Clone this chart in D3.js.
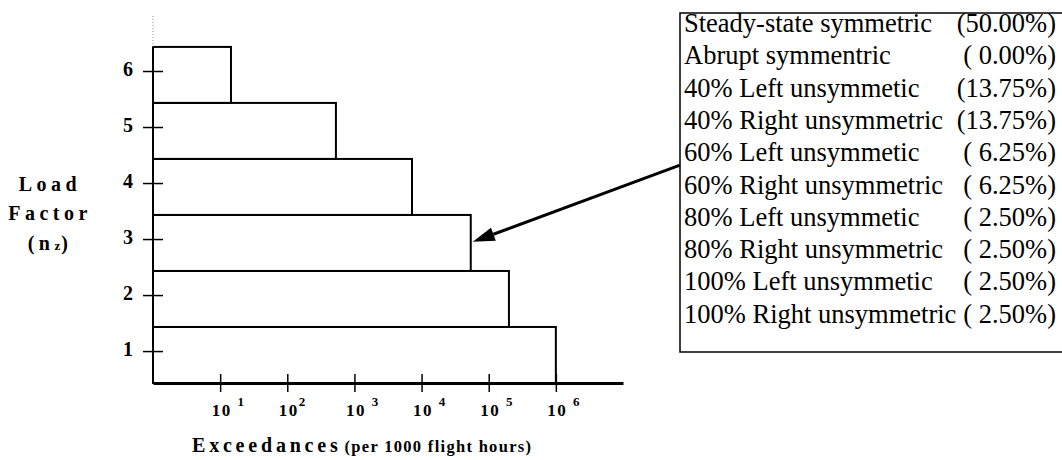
<!DOCTYPE html>
<html lang="en">
<head>
    <meta charset="UTF-8">
    <title>Load Factor Exceedances</title>
    <script src="https://d3js.org/d3.v7.min.js"></script>
    <style>
        body { margin: 0; background: #fff; }
        svg { display: block; }
    </style>
</head>
<body>
    <div id="chart"></div>

    <script>
        // Load factor levels and the exceedance count reached at each level
        var levels = [1, 2, 3, 4, 5, 6];
        var exceedances = [1e6, 2.0e5, 5.4e4, 7.2e3, 530, 14.5];
        var binLow = [0.43, 1.43, 2.43, 3.43, 4.43, 5.43];
        var binHigh = [1.43, 2.43, 3.43, 4.43, 5.43, 6.43];

        // x tick labels: base, spacer, exponent
        var xTicks = [1e1, 1e2, 1e3, 1e4, 1e5, 1e6];
        var xTickExp = ["1", "2", "3", "4", "5", "6"];
        var xTickGap = [" ", "", " ", " ", " ", " "];

        // Legend: manoeuvre cases and their shares
        var cases = [
            "Steady-state symmetric",
            "Abrupt symmentric",
            "40% Left unsymmetic",
            "40% Right unsymmetric",
            "60% Left unsymmetic",
            "60% Right unsymmetric",
            "80% Left unsymmetic",
            "80% Right unsymmetric",
            "100% Left unsymmetic",
            "100% Right unsymmetric"
        ];
        var shares = ["(50.00%)", "( 0.00%)", "(13.75%)", "(13.75%)", "( 6.25%)",
                      "( 6.25%)", "( 2.50%)", "( 2.50%)", "( 2.50%)", "( 2.50%)"];

        var serif = "'Liberation Serif', 'Times New Roman', serif";

        var svg = d3.select("#chart")
            .append("svg")
            .attr("width", 1062)
            .attr("height", 460);

        var x = d3.scaleLog()
            .domain([1, 1e7])
            .range([153, 623]);

        var y = d3.scaleLinear()
            .domain([0.43, 7])
            .range([383, 15]);

        // Stepped bars
        svg.selectAll("rect.bar")
            .data(levels)
            .enter()
            .append("rect")
            .attr("class", "bar")
            .attr("x", x(1))
            .attr("y", (d, i) => y(binHigh[i]))
            .attr("width", (d, i) => x(exceedances[i]) - x(1))
            .attr("height", (d, i) => y(binLow[i]) - y(binHigh[i]))
            .attr("fill", "none")
            .attr("stroke", "#000")
            .attr("stroke-width", 2);

        // Y axis
        var yAxis = svg.append("g")
            .attr("transform", "translate(" + x(1) + ",0)")
            .call(d3.axisLeft(y).tickValues(levels).tickSize(10).tickPadding(10).tickFormat(d3.format("d")));
        yAxis.select(".domain").remove();
        yAxis.selectAll(".tick line")
            .attr("x1", 10)
            .attr("stroke", "#000")
            .attr("stroke-width", 1.5);
        yAxis.selectAll(".tick text")
            .attr("fill", "#000")
            .attr("dy", "0.22em")
            .style("font-family", serif)
            .style("font-weight", "bold")
            .style("font-size", "20px");

        // solid axis up to the top bar, faint dotted above it
        svg.append("line")
            .attr("x1", x(1)).attr("x2", x(1))
            .attr("y1", y(binLow[0])).attr("y2", y(binHigh[5]))
            .attr("stroke", "#000")
            .attr("stroke-width", 2);
        svg.append("line")
            .attr("x1", x(1)).attr("x2", x(1))
            .attr("y1", y(binHigh[5])).attr("y2", y(7))
            .attr("stroke", "#888")
            .attr("stroke-width", 1)
            .attr("stroke-dasharray", "1,2");

        // X axis
        var xAxis = svg.append("g")
            .attr("transform", "translate(0," + y(binLow[0]) + ")")
            .call(d3.axisBottom(x).tickValues(xTicks).tickSize(9).tickSizeOuter(0).tickFormat(""));
        xAxis.select(".domain")
            .attr("stroke", "#000")
            .attr("stroke-width", 3);
        xAxis.selectAll(".tick line")
            .attr("y1", -9)
            .attr("stroke", "#000")
            .attr("stroke-width", 1.5);

        var xLabel = xAxis.selectAll(".tick")
            .append("text")
            .attr("y", 33)
            .attr("fill", "#000")
            .style("font-family", serif)
            .style("font-weight", "bold")
            .attr("text-anchor", "start")
            .attr("x", -9);
        xLabel.append("tspan")
            .style("font-size", "17px")
            .style("letter-spacing", "1.5px")
            .attr("xml:space", "preserve")
            .text((d, i) => "10" + xTickGap[i]);
        xLabel.append("tspan")
            .style("font-size", "13px")
            .attr("dy", -10)
            .text((d, i) => xTickExp[i]);

        // X axis title
        var xTitle = svg.append("text")
            .attr("x", 192)
            .attr("y", 452)
            .attr("fill", "#000")
            .style("font-family", serif)
            .style("font-weight", "bold");
        xTitle.append("tspan")
            .style("font-size", "20px")
            .style("letter-spacing", "3.8px")
            .text("Exceedances");
        xTitle.append("tspan")
            .attr("dx", 3)
            .style("font-size", "16.5px")
            .style("letter-spacing", "1.3px")
            .text("(per 1000 flight hours)");

        // Y axis title
        var yTitle = svg.append("text")
            .attr("text-anchor", "middle")
            .attr("fill", "#000")
            .style("font-family", serif)
            .style("font-weight", "bold")
            .style("font-size", "20px")
            .style("letter-spacing", "4.5px");
        yTitle.append("tspan").attr("x", 50).attr("y", 191).text("Load");
        yTitle.append("tspan").attr("x", 50).attr("y", 220).text("Factor");
        yTitle.append("tspan").attr("x", 50).attr("y", 250).text("(n");
        yTitle.append("tspan").style("font-size", "13px").style("letter-spacing", "1px").text("z");
        yTitle.append("tspan").text(")");

        // Legend box
        var legend = svg.append("g");
        legend.append("rect")
            .attr("x", 680)
            .attr("y", 13)
            .attr("width", 420)
            .attr("height", 339)
            .attr("fill", "#fff")
            .attr("stroke", "#000")
            .attr("stroke-width", 1.5);

        var rowY = d3.scaleLinear().domain([0, 1]).range([32, 64.3]);

        legend.selectAll("text.case")
            .data(cases)
            .enter()
            .append("text")
            .attr("class", "case")
            .attr("x", 684)
            .attr("y", (d, i) => rowY(i))
            .attr("fill", "#000")
            .style("font-family", serif)
            .style("font-size", "26.5px")
            .text(d => d);

        legend.selectAll("text.share")
            .data(shares)
            .enter()
            .append("text")
            .attr("class", "share")
            .attr("x", 1056)
            .attr("y", (d, i) => rowY(i))
            .attr("text-anchor", "end")
            .attr("xml:space", "preserve")
            .attr("fill", "#000")
            .style("font-family", serif)
            .style("font-size", "26.5px")
            .text(d => d);

        // Arrow from the legend to the level-3 bar
        var start = [680, rowY(4) + 4];
        var tip = [x(exceedances[2]) + 2, y(2.95)];
        var ang = Math.atan2(tip[1] - start[1], tip[0] - start[0]);
        var headLen = 22, headHalf = 7;
        var base = [tip[0] - headLen * Math.cos(ang), tip[1] - headLen * Math.sin(ang)];

        svg.append("line")
            .attr("x1", start[0]).attr("y1", start[1])
            .attr("x2", base[0]).attr("y2", base[1])
            .attr("stroke", "#000")
            .attr("stroke-width", 3);

        svg.append("path")
            .attr("d", d3.line()([
                tip,
                [base[0] + headHalf * Math.sin(ang), base[1] - headHalf * Math.cos(ang)],
                [base[0] - headHalf * Math.sin(ang), base[1] + headHalf * Math.cos(ang)]
            ]) + "Z")
            .attr("fill", "#000");
    </script>
</body>
</html>
